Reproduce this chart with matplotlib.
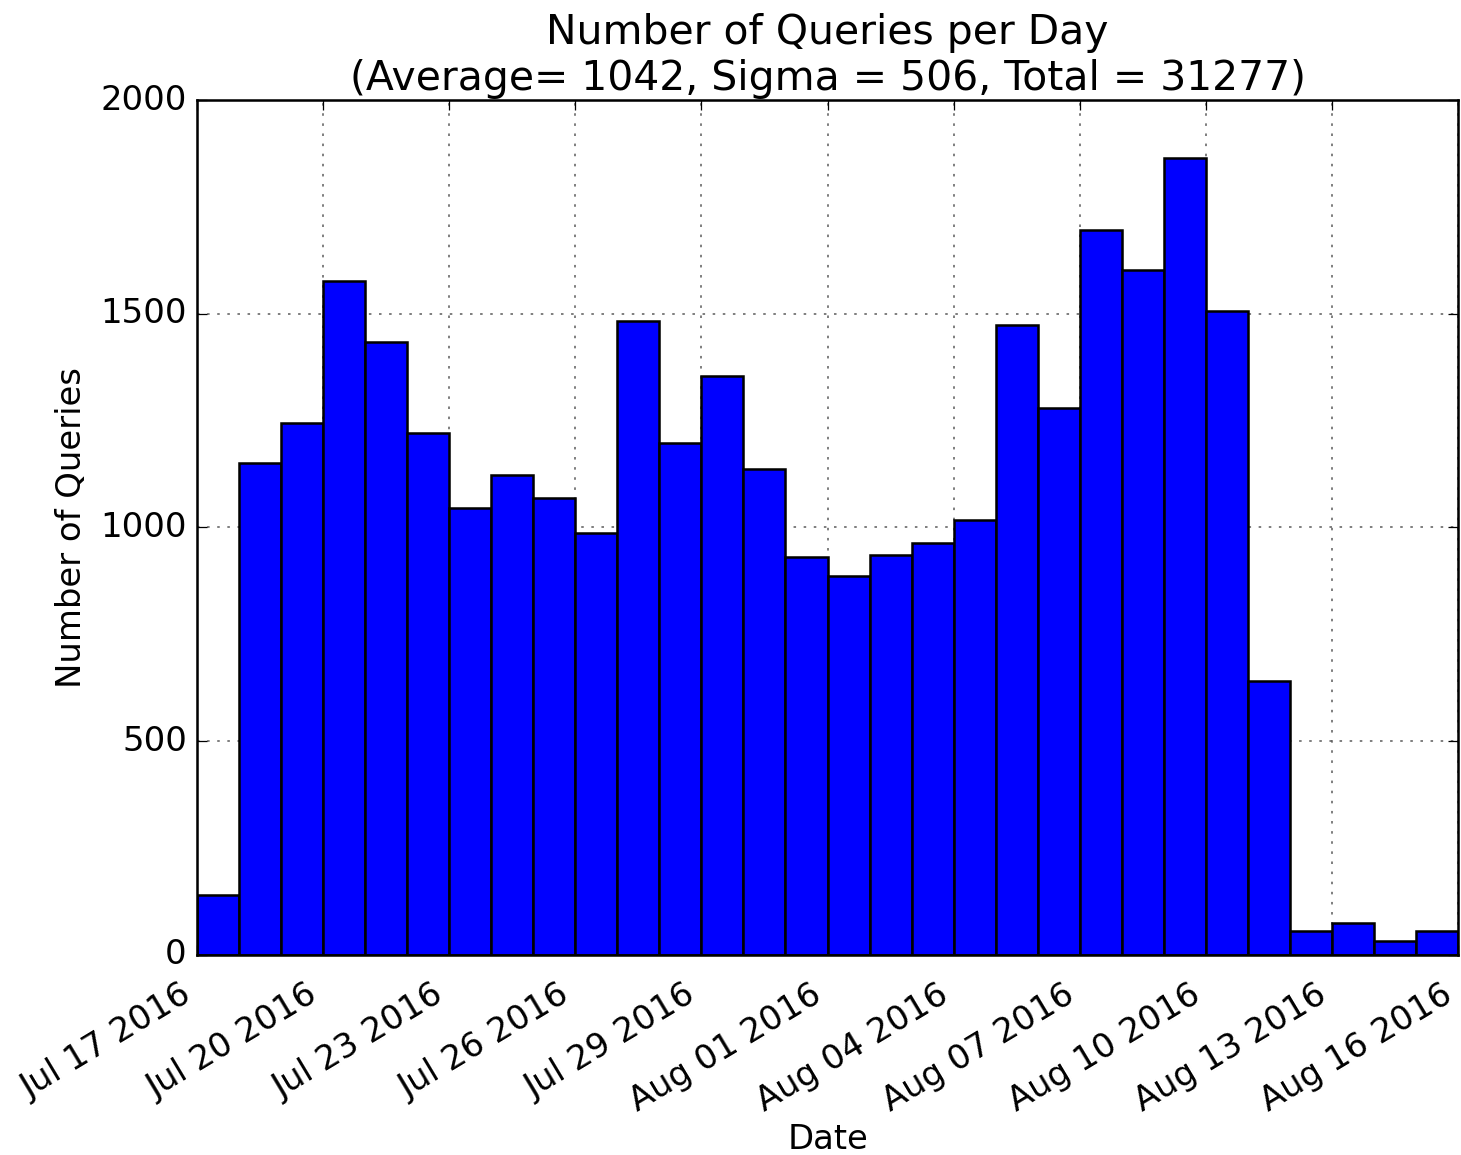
import matplotlib
matplotlib.use("Agg")
import matplotlib.pyplot as plt
import matplotlib.dates as mdates
import datetime as dt

plt.style.use("classic")

start_date = "2016-07-17"
counts = [140, 1151, 1244, 1577, 1434, 1221, 1046, 1123, 1069, 987,
          1483, 1198, 1354, 1137, 931, 887, 936, 964, 1017, 1474,
          1279, 1696, 1602, 1864, 1506, 641, 56, 75, 33, 56]
title_lines = ["Number of Queries per Day",
               "(Average= 1042, Sigma = 506, Total = 31277)"]
xlabel = "Date"
ylabel = "Number of Queries"

d0 = dt.datetime.strptime(start_date, "%Y-%m-%d")
days = [d0 + dt.timedelta(days=i) for i in range(len(counts))]

fs = 13.4
fig = plt.figure(figsize=(1461 / 182, 1155 / 182), dpi=182, facecolor="white")
ax = fig.add_axes([0.1348, 0.1732, 0.8632, 0.7402])
ax.set_axisbelow(True)
ax.bar(days, counts, width=1.0, align="edge", color="b", edgecolor="k", linewidth=1.0)

ax.set_xlim(d0, d0 + dt.timedelta(days=30))
ax.set_ylim(0, 2000)
ax.set_yticks([0, 500, 1000, 1500, 2000])
ticks = [d0 + dt.timedelta(days=3 * i) for i in range(11)]
ax.set_xticks(ticks)
ax.xaxis.set_major_formatter(mdates.DateFormatter("%b %d %Y"))
ax.tick_params(axis="both", labelsize=fs)
ax.tick_params(axis="x", pad=9)
for lab in ax.get_xticklabels():
    lab.set_rotation(31)
    lab.set_ha("right")
ax.grid(True, linestyle=":", color="0.35", linewidth=0.6)
ax.set_title("\n".join(title_lines), fontsize=16.2, y=0.997)
ax.set_xlabel(xlabel, fontsize=fs, labelpad=2)
ax.set_ylabel(ylabel, fontsize=fs, labelpad=5)

fig.savefig("out.png", dpi=182, facecolor="white")
